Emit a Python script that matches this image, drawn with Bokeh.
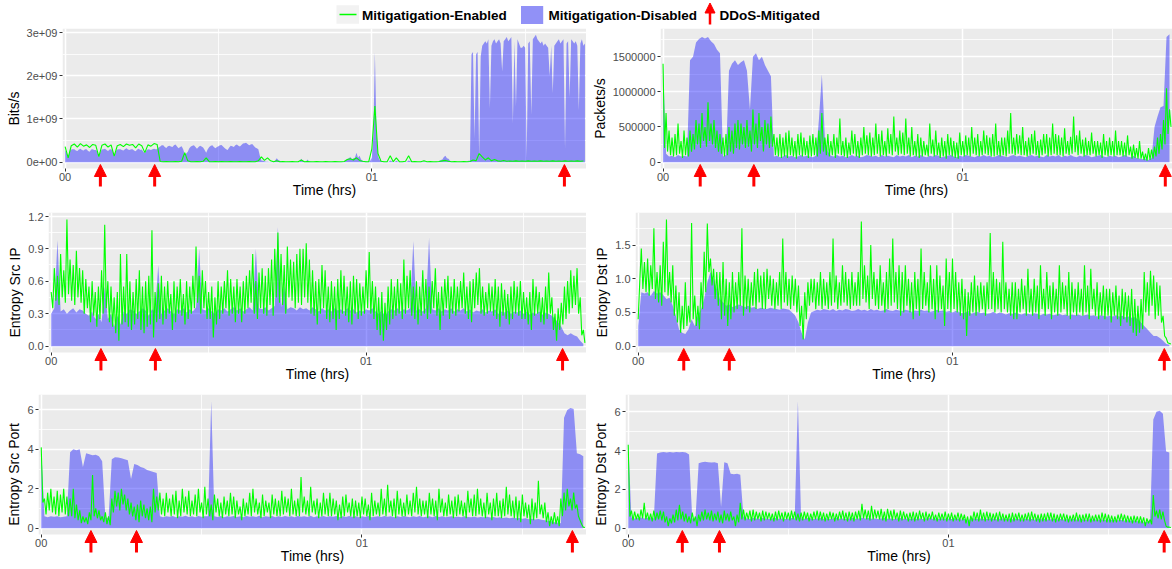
import numpy as np
from bokeh.plotting import figure
from bokeh.layouts import column, row
from bokeh.models import (Range1d, FixedTicker, Arrow, NormalHead, ColumnDataSource,
                          BoxAnnotation)
from bokeh.core.properties import value
from bokeh.embed import file_html
from bokeh.resources import INLINE

FONT = "Liberation Sans"
STEP_HRS = 0.01      # one sample every 0.01 h
HALF_STEP = 0.005    # one sample every 0.005 h

# ---------------- data ----------------
# Bits/s, units of 1e8, blue: step 0.005 h, one row = 0.1 h
bits_disabled = [
    2.8, 2.2, 1.0, 2.6, 2.9, 3.0, 3.0, 2.7, 2.6, 2.9, 3.1, 2.8, 2.7, 3.0, 3.0, 2.6, 2.4, 2.9, 3.0, 2.8,
    2.8, 2.5, 1.2, 2.4, 2.9, 3.0, 3.1, 2.8, 2.6, 2.9, 3.0, 2.7, 1.3, 2.5, 2.9, 3.0, 3.0, 2.8, 2.7, 3.0,
    3.2, 2.9, 2.8, 3.0, 3.0, 2.7, 2.5, 2.9, 3.1, 2.8, 2.9, 2.4, 2.1, 2.7, 3.0, 2.9, 2.8, 3.0, 3.1, 3.0,
    3.0, 3.4, 3.6, 3.9, 3.9, 3.5, 3.3, 3.7, 3.8, 3.6, 3.5, 3.9, 4.1, 3.6, 3.2, 3.5, 3.7, 3.0, 1.8, 2.0,
    2.4, 3.2, 3.6, 3.8, 3.9, 3.5, 3.1, 3.5, 3.8, 3.6, 3.4, 2.8, 2.2, 3.0, 3.5, 3.8, 3.9, 3.5, 3.2, 3.5,
    3.7, 3.9, 4.0, 3.6, 3.3, 3.0, 2.8, 3.4, 3.8, 3.7, 3.5, 3.9, 4.1, 3.8, 3.6, 4.0, 4.3, 4.4, 4.5, 4.2,
    3.9, 4.1, 4.2, 3.8, 3.4, 3.2, 3.0, 1.5, 0.4, 0.3, 0.2, 0.1, 0.1, 0.05, 0.05, 0.1, 0.1, 0.4, 0.9, 0.5,
    0.3, 0.1, 0.05, 0.05, 0.05, 0.1, 0.1, 0.05, 0.05, 0.05, 0.05, 0.05, 0.05, 0.1, 0.8, 0.3, 0.1, 0.05, 0.6, 0.2,
    0.1, 0.05, 0.05, 0.05, 0.05, 0.1, 0.1, 0.05, 0.05, 0.05, 0.05, 0.05, 0.1, 0.05, 0.05, 0.05, 0.05, 0.1, 0.1, 0.05,
    0.05, 0.1, 0.1, 0.3, 0.7, 0.9, 1.2, 0.6, 0.9, 1.0, 2.2, 1.0, 1.5, 0.6, 0.3, 0.2, 0.2, 0.1, 0.1, 0.3,
    1.0, 6.0, 25.5, 8.0, 1.5, 0.5, 0.3, 0.1, 0.1, 0.05, 0.05, 0.05, 0.4, 0.2, 0.1, 0.05, 0.3, 0.1, 0.05, 0.05,
    0.1, 0.05, 0.05, 0.1, 0.4, 0.2, 0.1, 0.05, 0.05, 0.05, 0.05, 0.05, 0.1, 0.05, 0.2, 0.1, 0.05, 0.05, 0.05, 0.05,
    0.05, 0.05, 0.1, 0.05, 0.3, 0.5, 0.6, 1.2, 1.5, 0.9, 0.8, 0.3, 0.1, 0.05, 0.05, 0.05, 0.05, 0.1, 0.1, 0.05,
    0.05, 0.1, 0.1, 0.3, 0.3, 25.0, 25.5, 5.5, 25.0, 25.5, 1.0, 24.5, 27.0, 27.5, 28.0, 27.5, 28.5, 12.5, 27.0, 28.0,
    28.5, 27.5, 28.0, 28.5, 27.5, 21.0, 28.0, 28.5, 29.0, 28.0, 28.5, 29.0, 9.0, 28.0, 13.0, 28.5, 27.5, 26.5, 26.5, 27.0,
    26.5, 1.0, 27.5, 28.0, 11.0, 28.5, 29.0, 29.5, 28.5, 28.0, 27.5, 28.0, 27.0, 27.5, 27.0, 26.5, 20.0, 27.0, 16.0, 27.0,
    27.5, 28.0, 28.5, 27.5, 28.0, 28.5, 3.0, 27.5, 28.0, 15.0, 28.5, 28.0, 27.5, 28.0, 27.0, 12.0, 27.5, 28.5, 27.0, 27.5,
]
# green bits: step 0.01 h
bits_enabled = [
    3.6, 1.0, 3.8, 4.2, 3.5, 4.3, 3.7, 4.0, 3.4, 4.1,
    3.9, 1.3, 3.9, 4.2, 3.5, 4.0, 1.4, 3.8, 4.1, 3.6,
    4.2, 3.9, 4.1, 3.3, 4.2, 3.8, 2.2, 4.0, 3.7, 4.3,
    4.1, 0.15, 0.1, 0.15, 0.1, 0.1, 0.15, 0.1, 0.2, 2.2,
    0.3, 0.1, 0.1, 0.15, 0.1, 0.2, 1.0, 0.1, 0.1, 0.15,
    0.1, 0.15, 0.1, 0.1, 0.15, 0.1, 0.1, 0.15, 0.1, 0.1,
    0.15, 0.1, 0.1, 0.3, 1.2, 0.4, 1.0, 0.3, 0.1, 0.3,
    0.1, 0.15, 0.1, 0.1, 0.15, 0.1, 0.1, 0.5, 0.1, 0.15,
    0.1, 0.1, 0.15, 0.1, 0.1, 0.15, 0.1, 0.1, 0.15, 0.1,
    0.1, 0.15, 0.6, 0.8, 0.5, 1.0, 0.4, 0.2, 0.1, 0.1,
    3.0, 13.0, 2.0, 0.2, 0.1, 0.1, 1.5, 0.1, 1.0, 0.1,
    0.1, 0.2, 1.5, 0.1, 0.15, 0.1, 0.1, 0.3, 0.1, 0.15,
    0.1, 0.1, 0.15, 0.3, 0.4, 0.2, 0.1, 0.15, 0.1, 0.1,
    0.15, 0.1, 0.15, 0.5, 0.3, 2.0, 1.2, 0.5, 1.0, 0.3,
    0.6, 0.3, 0.2, 0.4, 0.2, 0.25, 0.2, 0.3, 0.2, 0.25,
    0.2, 0.3, 0.2, 0.25, 0.2, 0.3, 0.2, 0.25, 0.2, 0.3,
    0.2, 0.25, 0.2, 0.3, 0.2, 0.25, 0.2, 0.3, 0.2, 0.25,
]
# Packets/s, units of 1e4 (blue: step 0.01 h)
pkt_disabled = [
    140, 12, 8, 9, 7, 10, 8, 9, 8, 145,
    150, 170, 175, 178, 176, 178, 172, 168, 160, 155,
    8, 10, 130, 140, 145, 138, 142, 145, 130, 75,
    150, 155, 145, 150, 138, 130, 122, 8, 9, 7,
    8, 10, 8, 9, 7, 8, 10, 8, 9, 8,
    7, 9, 60, 125, 35, 15, 9, 8, 10, 8,
    9, 7, 8, 10, 8, 9, 7, 8, 10, 9,
    8, 9, 7, 10, 8, 9, 8, 7, 10, 8,
    9, 8, 10, 7, 9, 8, 10, 8, 7, 9,
    8, 10, 9, 7, 8, 9, 10, 8, 7, 9,
    8, 10, 9, 8, 7, 9, 8, 10, 8, 9,
    7, 8, 10, 9, 8, 7, 9, 10, 8, 9,
    8, 7, 9, 10, 8, 9, 8, 7, 10, 8,
    9, 8, 10, 7, 9, 8, 10, 8, 7, 9,
    8, 10, 9, 7, 8, 9, 10, 8, 7, 9,
    8, 9, 7, 8, 10, 8, 7, 9, 6, 5,
    4, 5, 3, 6, 50, 65, 78, 80, 178, 182,
]
# green packets: step 0.005 h, one row = 0.1 h
pkt_enabled = [
    140, 20, 70, 15, 45, 10, 35, 8, 40, 10, 55, 12, 30, 6, 45, 10, 35, 8, 45, 15,
    40, 18, 60, 25, 55, 20, 70, 30, 50, 22, 85, 30, 55, 25, 60, 20, 45, 15, 40, 12,
    35, 8, 40, 10, 50, 15, 45, 12, 55, 20, 60, 18, 55, 25, 50, 20, 60, 22, 45, 15,
    75, 25, 55, 20, 70, 30, 50, 15, 60, 25, 55, 20, 65, 22, 40, 10, 35, 8, 40, 6,
    35, 8, 42, 6, 45, 10, 35, 8, 30, 5, 40, 10, 42, 8, 35, 10, 30, 6, 38, 8,
    40, 10, 35, 8, 45, 12, 70, 15, 35, 10, 40, 8, 30, 10, 40, 6, 35, 12, 62, 10,
    30, 8, 35, 6, 28, 10, 45, 12, 40, 8, 30, 6, 35, 10, 50, 12, 38, 10, 42, 8,
    35, 10, 55, 12, 40, 8, 45, 10, 30, 8, 48, 12, 40, 10, 65, 15, 35, 10, 45, 12,
    42, 10, 62, 12, 35, 8, 50, 10, 30, 8, 40, 6, 35, 8, 30, 10, 25, 8, 55, 12,
    32, 8, 45, 10, 28, 6, 35, 8, 30, 5, 40, 10, 35, 8, 30, 6, 28, 5, 42, 10,
    30, 8, 38, 10, 35, 8, 50, 12, 35, 10, 40, 8, 30, 10, 45, 12, 38, 10, 35, 8,
    40, 8, 55, 10, 30, 8, 35, 10, 35, 8, 45, 12, 70, 12, 35, 10, 40, 12, 38, 10,
    50, 10, 30, 8, 35, 10, 40, 12, 45, 10, 30, 6, 32, 10, 40, 12, 40, 8, 35, 10,
    55, 12, 40, 10, 38, 10, 35, 8, 48, 12, 30, 10, 36, 12, 65, 14, 38, 10, 45, 12,
    32, 8, 35, 10, 30, 10, 42, 12, 30, 8, 30, 10, 28, 6, 40, 10, 30, 8, 35, 10,
    30, 8, 45, 10, 30, 10, 30, 8, 28, 8, 38, 10, 22, 5, 25, 6, 20, 5, 30, 5,
    15, 3, 12, 2, 20, 3, 18, 5, 22, 8, 35, 12, 40, 18, 60, 25, 105, 40, 75, 50,
]
# Entropy Src IP, units of 0.01 (blue: step 0.01 h)
srcip_disabled = [
    30, 35, 98, 32, 34, 30, 33, 35, 31, 34,
    33, 30, 28, 32, 25, 30, 22, 55, 25, 30,
    18, 28, 20, 32, 30, 34, 33, 30, 32, 35,
    33, 28, 34, 32, 75, 30, 33, 35, 32, 30,
    34, 33, 35, 31, 34, 32, 36, 90, 34, 33,
    35, 32, 30, 34, 33, 35, 32, 34, 36, 33,
    35, 32, 34, 36, 33, 90, 35, 34, 36, 33,
    35, 37, 110, 36, 55, 34, 36, 35, 33, 36,
    34, 35, 33, 36, 34, 32, 35, 33, 34, 32,
    35, 33, 34, 32, 35, 33, 34, 31, 33, 32,
    34, 33, 35, 32, 30, 33, 28, 32, 34, 33,
    35, 32, 34, 33, 35, 97, 33, 34, 32, 35,
    100, 34, 33, 35, 32, 34, 33, 35, 32, 34,
    33, 35, 32, 34, 31, 33, 32, 34, 31, 33,
    32, 34, 30, 32, 31, 33, 30, 32, 31, 33,
    30, 32, 29, 31, 30, 32, 29, 31, 30, 28,
    25, 22, 18, 12, 10, 12, 10, 9, 5, 2,
]
# green Src IP: step 0.005 h, one row = 0.1 h
srcip_enabled = [
    50, 35, 72, 42, 65, 38, 85, 45, 70, 40, 117, 48, 80, 42, 75, 38, 88, 45, 72, 40,
    70, 30, 62, 35, 55, 22, 60, 28, 50, 18, 55, 25, 70, 30, 112, 35, 60, 22, 55, 18,
    45, 12, 50, 5, 85, 20, 55, 22, 85, 18, 60, 15, 50, 20, 62, 25, 70, 15, 55, 12,
    60, 18, 65, 20, 107, 8, 50, 22, 58, 25, 65, 20, 55, 25, 60, 30, 48, 15, 60, 22,
    55, 30, 62, 28, 48, 20, 60, 25, 55, 30, 65, 35, 92, 40, 65, 30, 70, 35, 60, 25,
    50, 25, 55, 8, 45, 20, 60, 25, 55, 30, 60, 35, 70, 28, 62, 30, 55, 22, 62, 30,
    55, 22, 60, 30, 65, 35, 70, 40, 85, 30, 60, 25, 68, 35, 72, 30, 65, 28, 72, 38,
    80, 28, 90, 45, 105, 40, 85, 38, 75, 30, 92, 45, 80, 42, 78, 35, 85, 40, 90, 38,
    90, 45, 95, 40, 80, 30, 70, 28, 60, 20, 62, 30, 75, 35, 70, 25, 55, 22, 60, 25,
    55, 15, 62, 25, 70, 30, 65, 28, 55, 22, 60, 20, 65, 30, 62, 25, 58, 28, 55, 30,
    70, 35, 87, 30, 60, 25, 55, 15, 45, 10, 50, 5, 40, 15, 55, 20, 62, 25, 55, 28,
    62, 30, 58, 25, 80, 30, 65, 35, 70, 28, 55, 25, 60, 20, 55, 28, 70, 30, 62, 25,
    55, 30, 60, 35, 72, 28, 50, 15, 55, 28, 62, 35, 65, 25, 55, 30, 62, 28, 55, 32,
    60, 35, 68, 30, 55, 25, 60, 22, 62, 35, 68, 38, 72, 30, 55, 28, 50, 30, 58, 32,
    55, 28, 62, 25, 55, 18, 58, 28, 52, 25, 48, 20, 55, 25, 60, 30, 55, 28, 60, 25,
    50, 25, 45, 20, 50, 15, 62, 28, 55, 30, 50, 22, 45, 20, 55, 25, 68, 30, 45, 15,
    30, 5, 35, 15, 40, 20, 55, 25, 60, 30, 70, 35, 65, 38, 72, 30, 45, 10, 15, 3,
]
# Entropy Dst IP, units of 0.01 (blue: step 0.01 h)
dstip_disabled = [
    30, 80, 78, 80, 75, 82, 78, 80, 76, 70,
    72, 60, 45, 25, 20, 18, 25, 40, 30, 45,
    55, 70, 95, 110, 100, 85, 70, 65, 60, 62,
    58, 60, 62, 60, 58, 60, 57, 58, 55, 57,
    56, 55, 57, 56, 55, 54, 56, 55, 54, 50,
    45, 35, 20, 10, 35, 50, 52, 54, 53, 55,
    54, 53, 55, 52, 54, 53, 55, 54, 52, 53,
    55, 53, 54, 52, 55, 53, 54, 52, 53, 55,
    53, 52, 54, 53, 52, 54, 53, 51, 53, 52,
    54, 52, 53, 51, 52, 54, 52, 53, 51, 52,
    50, 52, 51, 49, 50, 52, 48, 50, 51, 49,
    50, 48, 49, 51, 48, 50, 49, 47, 49, 48,
    50, 48, 47, 49, 48, 47, 49, 48, 46, 48,
    47, 48, 46, 47, 48, 46, 47, 45, 47, 46,
    47, 45, 46, 47, 45, 46, 44, 46, 45, 44,
    45, 44, 46, 44, 45, 43, 44, 42, 43, 40,
    35, 30, 25, 20, 15, 15, 12, 8, 3, 2,
]
# green Dst IP: step 0.005 h, one row = 0.1 h
dstip_enabled = [
    40, 95, 145, 85, 125, 80, 130, 75, 120, 85, 175, 70, 110, 65, 120, 60, 155, 80, 188, 75,
    110, 65, 120, 45, 90, 35, 80, 20, 60, 25, 95, 30, 60, 35, 183, 40, 75, 30, 60, 25,
    95, 55, 140, 80, 182, 110, 130, 90, 115, 70, 110, 60, 110, 40, 125, 45, 100, 30, 95, 40,
    110, 50, 95, 55, 110, 60, 175, 45, 105, 55, 100, 50, 95, 60, 110, 55, 115, 65, 105, 55,
    110, 55, 115, 70, 105, 60, 100, 55, 95, 60, 110, 55, 160, 65, 110, 60, 100, 55, 105, 60,
    100, 50, 90, 30, 60, 10, 80, 40, 95, 60, 100, 65, 100, 55, 95, 60, 110, 55, 100, 60,
    95, 55, 110, 60, 160, 65, 105, 55, 95, 60, 120, 65, 110, 60, 100, 55, 110, 60, 95, 60,
    110, 60, 185, 70, 120, 65, 105, 55, 150, 70, 110, 60, 100, 55, 120, 60, 95, 50, 110, 55,
    130, 60, 160, 65, 110, 55, 120, 45, 110, 50, 120, 60, 100, 50, 95, 40, 110, 55, 100, 45,
    145, 55, 110, 60, 95, 50, 120, 55, 100, 40, 120, 50, 105, 55, 90, 30, 130, 55, 110, 50,
    130, 55, 110, 50, 95, 45, 100, 40, 85, 15, 80, 45, 95, 50, 105, 45, 90, 50, 95, 55,
    90, 45, 95, 55, 168, 55, 110, 50, 100, 55, 95, 50, 155, 55, 95, 50, 85, 45, 95, 40,
    95, 40, 85, 50, 100, 55, 90, 45, 115, 50, 85, 45, 100, 50, 90, 40, 120, 55, 85, 45,
    110, 55, 90, 40, 95, 50, 85, 45, 120, 50, 95, 55, 90, 45, 110, 40, 95, 50, 85, 45,
    95, 50, 85, 45, 120, 50, 90, 40, 115, 55, 85, 45, 95, 40, 80, 45, 90, 40, 85, 45,
    85, 35, 80, 45, 90, 40, 75, 30, 85, 40, 80, 35, 75, 30, 85, 20, 70, 15, 60, 20,
    70, 25, 110, 50, 95, 45, 112, 60, 105, 40, 95, 45, 90, 35, 45, 15, 12, 5, 4, 3,
]
# Entropy Src Port, units of 0.01 (blue: step 0.01 h)
srcport_disabled = [
    410, 60, 55, 60, 58, 60, 55, 58, 60, 385,
    400, 395, 400, 310, 380, 375, 370, 372, 365, 340,
    55, 50, 350, 360, 358, 355, 350, 345, 250, 325,
    320, 310, 305, 295, 290, 285, 280, 60, 55, 60,
    58, 62, 55, 60, 58, 63, 57, 60, 55, 62,
    58, 60, 60, 645, 60, 57, 62, 55, 60, 58,
    62, 57, 60, 55, 62, 58, 60, 57, 63, 55,
    60, 58, 62, 55, 60, 57, 62, 58, 60, 55,
    62, 58, 60, 57, 63, 55, 60, 58, 62, 56,
    60, 58, 62, 55, 60, 57, 62, 58, 60, 55,
    60, 57, 62, 55, 58, 60, 56, 62, 58, 60,
    55, 60, 57, 62, 58, 55, 60, 57, 62, 55,
    58, 60, 55, 62, 57, 60, 55, 58, 60, 56,
    58, 55, 60, 57, 55, 58, 54, 57, 55, 58,
    54, 56, 53, 55, 52, 54, 50, 53, 50, 52,
    48, 50, 45, 48, 44, 46, 42, 40, 38, 35,
    30, 28, 25, 560, 600, 610, 605, 380, 375, 365,
]
# green Src Port: step 0.005 h, one row = 0.1 h
srcport_enabled = [
    410, 130, 150, 70, 180, 90, 200, 80, 160, 70, 190, 60, 170, 80, 200, 70, 160, 60, 150, 60,
    200, 50, 120, 40, 90, 25, 60, 30, 55, 20, 80, 40, 270, 60, 100, 50, 90, 40, 60, 30,
    80, 20, 60, 15, 150, 80, 190, 110, 180, 90, 200, 120, 170, 90, 150, 70, 130, 60, 110, 40,
    120, 30, 140, 60, 120, 50, 100, 40, 110, 30, 200, 80, 160, 90, 180, 70, 150, 60, 180, 80,
    150, 60, 170, 70, 190, 50, 140, 60, 200, 80, 160, 70, 190, 60, 140, 70, 170, 60, 200, 80,
    130, 50, 210, 70, 150, 60, 120, 40, 170, 80, 150, 60, 130, 50, 160, 70, 140, 60, 180, 70,
    160, 50, 140, 70, 110, 40, 150, 60, 130, 70, 180, 60, 200, 80, 150, 70, 130, 50, 170, 60,
    140, 80, 130, 50, 170, 70, 150, 60, 140, 60, 190, 70, 160, 80, 150, 60, 200, 70, 140, 60,
    150, 60, 260, 80, 160, 70, 140, 60, 210, 80, 140, 70, 150, 50, 130, 60, 180, 70, 150, 60,
    180, 60, 150, 70, 140, 40, 120, 50, 160, 60, 170, 80, 130, 60, 150, 50, 140, 60, 130, 50,
    160, 70, 150, 60, 120, 40, 180, 60, 140, 70, 130, 60, 200, 70, 150, 60, 220, 80, 140, 60,
    150, 50, 190, 70, 150, 60, 130, 60, 170, 70, 140, 60, 180, 80, 210, 70, 150, 60, 140, 70,
    140, 50, 180, 70, 150, 60, 140, 40, 200, 80, 150, 60, 130, 60, 170, 70, 140, 50, 160, 60,
    170, 70, 140, 60, 130, 50, 190, 80, 150, 60, 170, 60, 200, 70, 150, 60, 130, 50, 180, 70,
    130, 40, 150, 60, 180, 60, 140, 50, 150, 60, 210, 70, 170, 60, 140, 50, 160, 40, 140, 30,
    170, 60, 130, 50, 120, 20, 150, 40, 130, 50, 240, 70, 120, 50, 130, 30, 80, 10, 60, 20,
    80, 20, 60, 10, 150, 60, 180, 90, 200, 110, 150, 90, 180, 100, 120, 60, 40, 20, 5, 3,
]
# Entropy Dst Port, units of 0.01 (blue: step 0.01 h)
dstport_disabled = [
    450, 55, 50, 52, 55, 50, 53, 55, 50, 385,
    390, 392, 390, 393, 390, 392, 391, 393, 390, 380,
    50, 48, 335, 340, 342, 340, 338, 340, 335, 110,
    340, 335, 280, 278, 280, 275, 60, 50, 48, 52,
    50, 48, 52, 50, 47, 50, 52, 48, 50, 47,
    50, 52, 50, 655, 50, 48, 52, 50, 47, 50,
    52, 48, 50, 47, 50, 52, 48, 50, 47, 50,
    52, 48, 50, 53, 50, 52, 48, 50, 47, 50,
    52, 48, 50, 47, 50, 52, 48, 50, 47, 50,
    48, 50, 47, 50, 52, 48, 50, 47, 50, 48,
    50, 47, 50, 48, 45, 48, 40, 48, 50, 47,
    50, 48, 47, 50, 48, 46, 48, 50, 47, 48,
    46, 48, 47, 45, 48, 46, 47, 45, 48, 46,
    47, 45, 46, 48, 45, 47, 44, 46, 45, 47,
    44, 46, 45, 43, 46, 44, 45, 43, 44, 42,
    44, 42, 43, 41, 42, 40, 41, 38, 40, 36,
    35, 30, 32, 40, 560, 600, 605, 590, 395, 390,
]
# green Dst Port: step 0.005 h, one row = 0.1 h
dstport_enabled = [
    430, 60, 90, 40, 85, 45, 75, 40, 95, 50, 130, 45, 80, 40, 75, 35, 90, 40, 80, 45,
    90, 40, 85, 30, 60, 10, 50, 25, 70, 30, 95, 40, 120, 45, 85, 35, 75, 30, 60, 25,
    80, 35, 60, 10, 70, 35, 85, 40, 95, 45, 80, 40, 90, 35, 75, 40, 85, 30, 70, 25,
    90, 40, 75, 35, 85, 40, 60, 10, 70, 30, 130, 45, 95, 40, 80, 45, 90, 35, 95, 40,
    85, 45, 80, 35, 90, 40, 85, 45, 80, 40, 75, 35, 85, 40, 90, 45, 80, 35, 85, 45,
    80, 40, 90, 45, 85, 40, 75, 35, 80, 40, 85, 45, 80, 35, 75, 40, 85, 45, 90, 40,
    85, 40, 80, 35, 75, 40, 85, 45, 80, 35, 75, 40, 85, 45, 90, 40, 80, 35, 85, 40,
    80, 35, 85, 45, 90, 40, 125, 50, 95, 45, 90, 40, 115, 45, 95, 50, 90, 45, 100, 40,
    85, 35, 100, 45, 90, 40, 95, 45, 80, 35, 90, 40, 85, 45, 75, 35, 80, 40, 85, 35,
    80, 40, 90, 45, 80, 35, 85, 40, 75, 45, 85, 40, 70, 35, 80, 40, 75, 40, 85, 35,
    75, 40, 80, 35, 70, 40, 80, 35, 75, 40, 70, 25, 60, 10, 65, 35, 85, 40, 80, 35,
    95, 40, 80, 35, 85, 40, 80, 35, 75, 40, 80, 35, 85, 40, 75, 35, 70, 35, 75, 30,
    80, 35, 75, 40, 80, 35, 70, 35, 75, 40, 80, 35, 85, 40, 75, 35, 70, 30, 75, 35,
    75, 35, 80, 40, 80, 35, 75, 30, 70, 35, 75, 40, 75, 35, 70, 30, 65, 35, 70, 35,
    80, 35, 70, 30, 70, 35, 75, 35, 75, 30, 65, 35, 70, 35, 70, 30, 80, 35, 75, 30,
    70, 30, 65, 30, 60, 30, 70, 35, 75, 35, 70, 30, 65, 30, 60, 25, 65, 30, 60, 25,
    60, 25, 55, 10, 50, 25, 45, 20, 170, 60, 90, 50, 95, 45, 85, 40, 10, 5, 5, 3,
]

# DDoS-mitigated arrow positions (hours) per panel
arrows_bits = [0.115, 0.292, 1.628]
arrows_pkt = [0.124, 0.303, 1.676]
arrows_srcip = [0.158, 0.331, 1.624]
arrows_dstip = [0.145, 0.290, 1.674]
arrows_srcport = [0.155, 0.297, 1.656]
arrows_dstport = [0.169, 0.285, 1.674]

x_ticks = [0, 1]
x_tick_labels = ["00", "01"]

GREEN = "#00FF00"
PANEL_H = 140   # grey panel height (px)
STRIP = 20      # strip below the panel that holds the arrows (px)


def panel(width, left, height, ylabel, ymax, yticks, ylabels, yminor,
          dis, en, scale, arrows, dis_step, en_step):
    ylo, yhi = -0.05 * ymax, 1.05 * ymax
    per_px = (yhi - ylo) / PANEL_H
    ylo_ext = ylo - STRIP * per_px
    p = figure(width=width, height=height,
               x_range=Range1d(-0.0085, 1.70), y_range=Range1d(ylo_ext, yhi),
               output_backend="svg", toolbar_location=None,
               min_border_left=left, min_border_right=0,
               min_border_top=0, min_border_bottom=height - PANEL_H - STRIP,
               background_fill_color="white", border_fill_color="white",
               outline_line_color=None)
    p.add_layout(BoxAnnotation(bottom=ylo, fill_color="#EBEBEB", fill_alpha=1.0,
                               line_color=None, level="image"))
    td = np.arange(len(dis)) * dis_step
    te = np.arange(len(en)) * en_step
    p.varea(x=td, y1=0, y2=np.array(dis, dtype=float) * scale,
            fill_color="blue", fill_alpha=0.4)
    p.line(x=te, y=np.array(en, dtype=float) * scale,
           line_color=GREEN, line_width=1.1)

    xt = FixedTicker(ticks=x_ticks, minor_ticks=[0.5, 1.5])
    yt = FixedTicker(ticks=yticks, minor_ticks=yminor)
    p.xaxis.ticker = xt
    p.yaxis.ticker = yt
    p.xgrid.ticker = xt
    p.ygrid.ticker = yt
    p.xaxis.major_label_overrides = dict(zip(x_ticks, x_tick_labels))
    p.yaxis.major_label_overrides = dict(zip(yticks, ylabels))
    p.xaxis.axis_label = "Time (hrs)"
    p.yaxis.axis_label = ylabel
    p.yaxis.bounds = (ylo, yhi)
    for ax in (p.xaxis[0], p.yaxis[0]):
        ax.axis_line_color = None
        ax.major_tick_line_color = "#333333"
        ax.minor_tick_line_color = None
        ax.major_label_text_font = FONT
        ax.major_label_text_font_size = "11px"
        ax.major_label_text_color = "#4D4D4D"
        ax.axis_label_text_font = FONT
        ax.axis_label_text_font_size = "14px"
        ax.axis_label_text_font_style = "normal"
        ax.axis_label_text_color = "black"
    ya = p.yaxis[0]
    ya.major_tick_out = 3
    ya.major_tick_in = 0
    ya.minor_tick_out = 0
    ya.minor_tick_in = 0
    ya.major_label_standoff = 2
    ya.axis_label_standoff = 2
    xa = p.xaxis[0]
    # ticks hang just under the grey panel, labels sit in the arrow strip
    xa.major_tick_in = STRIP
    xa.major_tick_out = -(STRIP - 3)
    xa.minor_tick_in = 0
    xa.minor_tick_out = -(STRIP - 3)
    xa.major_label_standoff = 1
    xa.axis_label_standoff = -2
    for g in (p.xgrid[0], p.ygrid[0]):
        g.grid_line_color = "white"
        g.grid_line_width = 1.5
        g.minor_grid_line_color = "white"
        g.minor_grid_line_width = 0.8

    tip = ylo + 4 * per_px
    tail = ylo - 18 * per_px
    src = ColumnDataSource(dict(x=arrows, y0=[tail] * len(arrows), y1=[tip] * len(arrows)))
    p.add_layout(Arrow(end=NormalHead(size=12, fill_color="red", line_color="red", line_width=1),
                       x_start="x", y_start="y0", x_end="x", y_end="y1", source=src,
                       line_color="red", line_width=3))
    return p


p1 = panel(586, 62, 184, "Bits/s", 2.95e9, [0, 1e9, 2e9, 3e9],
           ["0e+00", "1e+09", "2e+09", "3e+09"], [0.5e9, 1.5e9, 2.5e9],
           bits_disabled, bits_enabled, 1e8, arrows_bits, HALF_STEP, STEP_HRS)
p2 = panel(586, 74, 184, "Packets/s", 1.81e6, [0, 5e5, 1e6, 1.5e6],
           ["0", "500000", "1000000", "1500000"], [2.5e5, 7.5e5, 1.25e6, 1.75e6],
           pkt_disabled, pkt_enabled, 1e4, arrows_pkt, STEP_HRS, HALF_STEP)
p3 = panel(586, 48, 182, "Entropy Src IP", 1.175, [0, 0.3, 0.6, 0.9, 1.2],
           ["0.0", "0.3", "0.6", "0.9", "1.2"], [0.15, 0.45, 0.75, 1.05],
           srcip_disabled, srcip_enabled, 0.01, arrows_srcip, STEP_HRS, HALF_STEP)
p4 = panel(586, 49, 182, "Entropy Dst IP", 1.89, [0, 0.5, 1.0, 1.5],
           ["0.0", "0.5", "1.0", "1.5"], [0.25, 0.75, 1.25, 1.75],
           dstip_disabled, dstip_enabled, 0.01, arrows_dstip, STEP_HRS, HALF_STEP)
p5 = panel(586, 38, 175, "Entropy Src Port", 6.46, [0, 2, 4, 6],
           ["0", "2", "4", "6"], [1, 3, 5],
           srcport_disabled, srcport_enabled, 0.01, arrows_srcport, STEP_HRS, HALF_STEP)
p6 = panel(586, 39, 175, "Entropy Dst Port", 6.56, [0, 2, 4, 6],
           ["0", "2", "4", "6"], [1, 3, 5],
           dstport_disabled, dstport_enabled, 0.01, arrows_dstport, STEP_HRS, HALF_STEP)

# ---------------- legend strip ----------------
h = figure(width=1172, height=28, x_range=Range1d(0, 1172), y_range=Range1d(0, 28),
           output_backend="svg", toolbar_location=None, min_border=0,
           x_axis_location=None, y_axis_location=None, outline_line_color=None,
           background_fill_color="white", border_fill_color="white")
h.grid.visible = False
h.quad(left=[336], right=[358.5], bottom=[4.7], top=[23.3], fill_color="#F2F2F2", line_color=None)
h.segment(x0=[339], x1=[356], y0=[14], y1=[14], line_color=GREEN, line_width=1.5)
h.quad(left=[520.5], right=[542.7], bottom=[4.5], top=[22.5], fill_color="#F2F2F2", line_color=None)
h.quad(left=[520.5], right=[542.7], bottom=[4.5], top=[22.5], fill_color="blue", fill_alpha=0.4, line_color=None)
h.text(x=[361.6, 548, 719], y=[13.5, 13.5, 13.5],
       text=["Mitigatigation-Enabled", "Mitigatigation-Disabled", "DDoS-Mitigated"],
       text_font=value(FONT), text_font_size="13.5px", text_font_style="bold",
       text_baseline="middle", text_align="left", text_color="black")
h.add_layout(Arrow(end=NormalHead(size=10, fill_color="red", line_color="red", line_width=1),
                   x_start=709.5, y_start=4.0, x_end=709.5, y_end=25.5,
                   line_color="red", line_width=2.5))

layout = column(h, row(p1, p2), row(p3, p4), row(p5, p6))
open("out.html", "w").write(file_html(layout, INLINE))
